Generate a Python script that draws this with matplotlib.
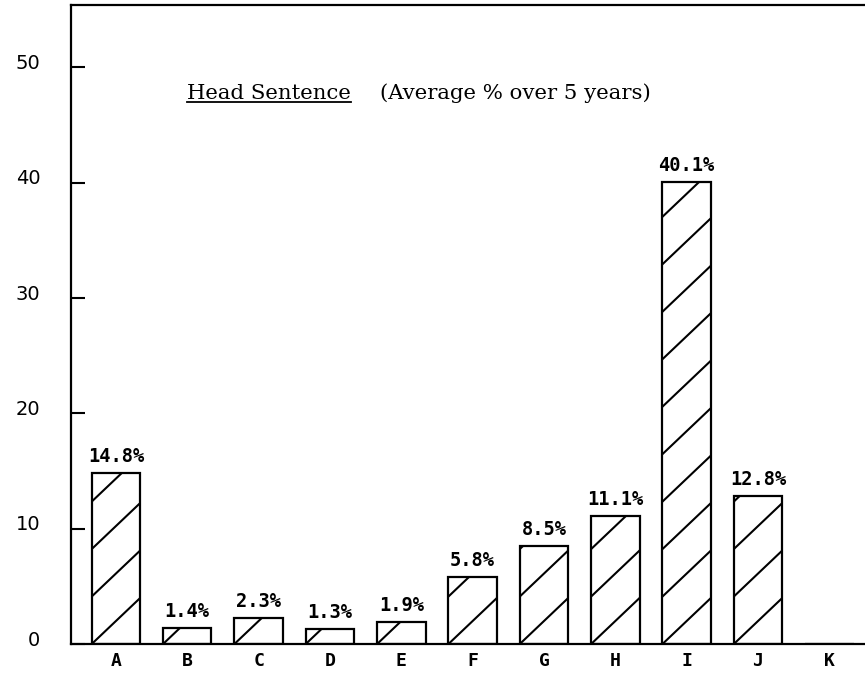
import matplotlib.pyplot as plt
import matplotlib.transforms as mtransforms
from matplotlib.lines import Line2D

categories = ['A', 'B', 'C', 'D', 'E', 'F', 'G', 'H', 'I', 'J', 'K']
values = [14.8, 1.4, 2.3, 1.3, 1.9, 5.8, 8.5, 11.1, 40.1, 12.8, 0]
labels = ['14.8%', '1.4%', '2.3%', '1.3%', '1.9%', '5.8%', '8.5%', '11.1%', '40.1%', '12.8%', '']
yticks = [0, 10, 20, 30, 40, 50]

fig = plt.figure(figsize=(8.65, 6.78), dpi=100)
ax = fig.add_axes([0.082, 0.050, 0.918, 0.9426])

x = list(range(len(categories)))
bars = ax.bar(x, values, width=0.68, color='white', edgecolor='black', linewidth=1.6)
ax.set_xlim(-0.63, 10.5)
ax.set_ylim(0, 55.4)

# sparse diagonal hatching, one line starting at each bar's bottom-left corner
p0 = ax.transData.transform((0, 0))
p1 = ax.transData.transform((1, 1))
sx, sy = p1[0] - p0[0], p1[1] - p0[1]
for b in bars:
    x0, w, h = b.get_x(), b.get_width(), b.get_height()
    if h <= 0:
        continue
    rise = w * sx * 0.95 / sy
    step = rise * 1.03
    k = 0
    while k * step < h:
        ln = Line2D([x0, x0 + w], [k * step, k * step + rise], color='black', lw=1.5)
        ax.add_line(ln)
        ln.set_clip_path(b)
        k += 1

for xi, v, t in zip(x, values, labels):
    if t:
        ax.annotate(t, (xi, v), xytext=(0, 5), textcoords='offset points',
                    ha='center', va='bottom', family='DejaVu Sans Mono',
                    fontsize=13.5, weight='bold')

ax.set_xticks(x)
ax.set_xticklabels(categories, family='DejaVu Sans Mono', fontsize=13, weight='bold')
ax.tick_params(axis='x', length=0, pad=6)
ax.set_yticks(yticks)
ax.set_yticklabels([str(t) for t in yticks], family='DejaVu Sans', fontsize=14)
ax.tick_params(axis='y', direction='in', length=10, width=1.5, pad=22)

# tick numbers sit a little above their tick marks in the original
shift = mtransforms.ScaledTranslation(0, 6 / 100, fig.dpi_scale_trans)
for lab in ax.get_yticklabels():
    lab.set_transform(lab.get_transform() + shift)

ax.spines['right'].set_visible(False)
for s in ['left', 'top', 'bottom']:
    ax.spines[s].set_linewidth(1.6)

t1 = ax.text(0.146, 0.853, 'Head Sentence', transform=ax.transAxes,
             family='DejaVu Serif', fontsize=15.3, ha='left', va='baseline')
ax.text(0.389, 0.853, '(Average % over 5 years)', transform=ax.transAxes,
        family='DejaVu Serif', fontsize=15.3, ha='left', va='baseline')

fig.canvas.draw()
bb = t1.get_window_extent().transformed(fig.transFigure.inverted())
fig.add_artist(Line2D([bb.x0, bb.x1], [bb.y0 + 0.001, bb.y0 + 0.001],
                      transform=fig.transFigure, color='black', lw=1.3))

fig.savefig('out.png', dpi=100)
